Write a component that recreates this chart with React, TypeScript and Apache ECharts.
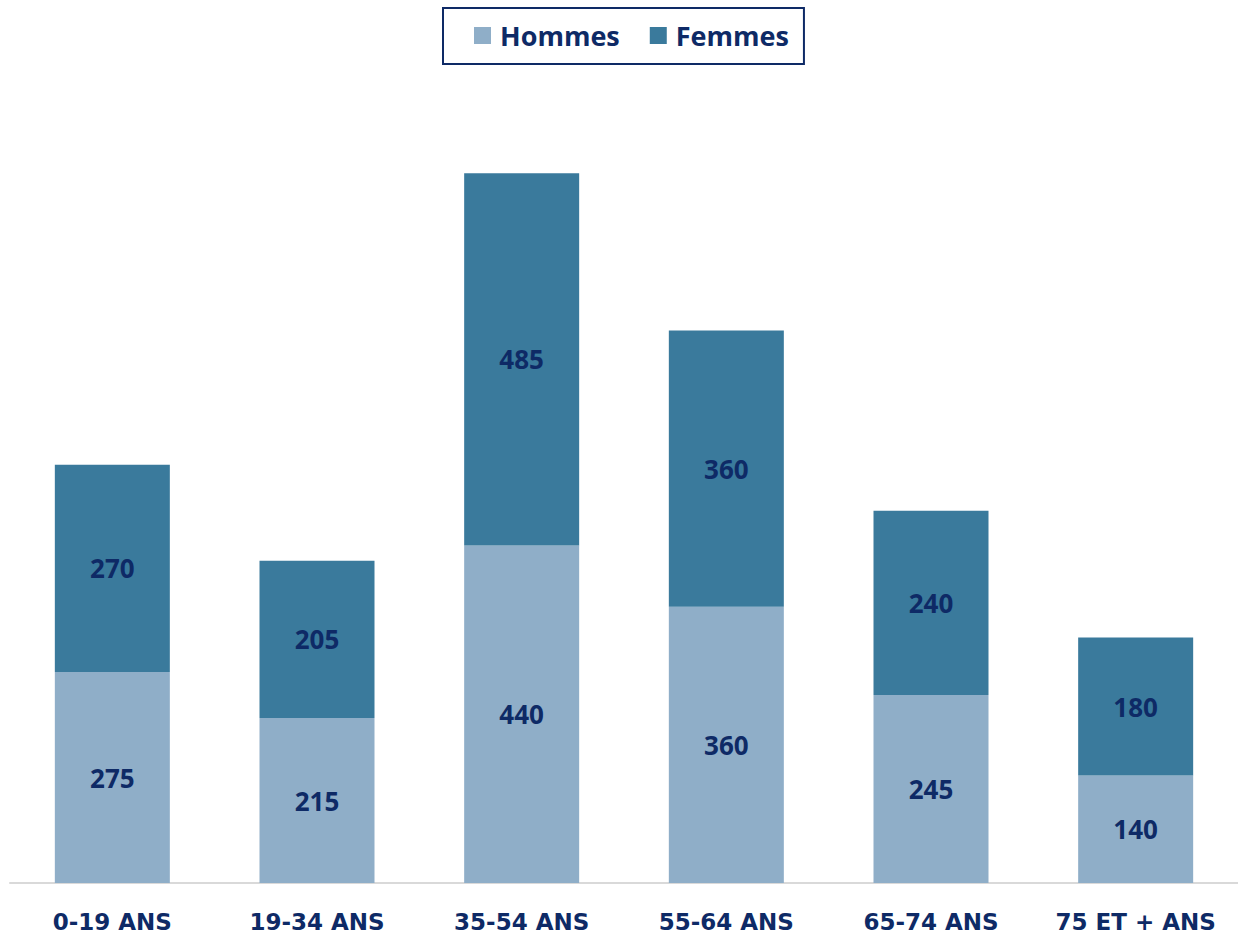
import React, { useEffect, useRef } from "react";
import * as echarts from "echarts";

const categories = ["0-19 ANS", "19-34 ANS", "35-54 ANS", "55-64 ANS", "65-74 ANS", "75 ET + ANS"];
const hommes = [275, 215, 440, 360, 245, 140];
const femmes = [270, 205, 485, 360, 240, 180];

const NAVY = "#0e2a66";

export default function App() {
  const ref = useRef<HTMLDivElement>(null);
  useEffect(() => {
    document.body.style.margin = "0";
    const chart = echarts.init(ref.current!, undefined, { renderer: "svg" });
    const labelStyle = {
      show: true,
      position: "inside" as const,
      color: NAVY,
      fontFamily: "Open Sans",
      fontWeight: "bold" as const,
      fontSize: 26,
    };
    chart.setOption({
      animation: false,
      legend: {
        top: 8,
        left: 443,
        itemWidth: 17,
        itemHeight: 17,
        itemGap: 30,
        icon: "rect",
        borderColor: NAVY,
        borderWidth: 2,
        borderRadius: 0,
        padding: [14, 15, 15, 31],
        textStyle: {
          color: NAVY,
          fontFamily: "Open Sans",
          fontWeight: "bold",
          fontSize: 27,
          padding: [0, 0, 0, 4],
        },
        data: ["Hommes", "Femmes"],
      },
      grid: { left: 10, right: 0, top: 39, bottom: 54, containLabel: false },
      xAxis: {
        type: "category",
        data: categories,
        axisLine: { lineStyle: { color: "#d9d9d9", width: 2 } },
        axisTick: { show: false },
        axisLabel: {
          color: NAVY,
          fontFamily: "DejaVu Sans",
          fontWeight: "bold",
          fontSize: 23,
          margin: 27,
          interval: 0,
        },
      },
      yAxis: { type: "value", min: 0, max: 1100, show: false, splitLine: { show: false } },
      series: [
        {
          name: "Hommes",
          type: "bar",
          stack: "total",
          data: hommes,
          barWidth: 115,
          itemStyle: { color: "#8faec8" },
          label: labelStyle,
        },
        {
          name: "Femmes",
          type: "bar",
          stack: "total",
          data: femmes,
          barWidth: 115,
          itemStyle: { color: "#3a7a9c" },
          label: labelStyle,
        },
      ],
    });
    return () => chart.dispose();
  }, []);
  return <div ref={ref} style={{ width: 1238, height: 937 }} />;
}
